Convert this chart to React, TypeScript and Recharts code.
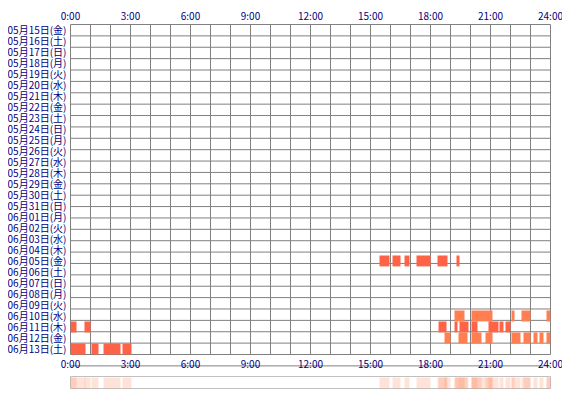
import { BarChart, Bar, XAxis, YAxis, CartesianGrid, Cell, ReferenceArea } from "recharts";

const DAY_LABELS = [
  "05月15日(金)", "05月16日(土)", "05月17日(日)", "05月18日(月)", "05月19日(火)",
  "05月20日(水)", "05月21日(木)", "05月22日(金)", "05月23日(土)", "05月24日(日)",
  "05月25日(月)", "05月26日(火)", "05月27日(水)", "05月28日(木)", "05月29日(金)",
  "05月30日(土)", "05月31日(日)", "06月01日(月)", "06月02日(火)", "06月03日(水)",
  "06月04日(木)", "06月05日(金)", "06月06日(土)", "06月07日(日)", "06月08日(月)",
  "06月09日(火)", "06月10日(水)", "06月11日(木)", "06月12日(金)", "06月13日(土)",
];

const HOUR_TICKS = [0, 1, 2, 3, 4, 5, 6, 7, 8, 9, 10, 11, 12, 13, 14, 15, 16, 17, 18, 19, 20, 21, 22, 23, 24];
const ROW_LINES = [0, 1, 2, 3, 4, 5, 6, 7, 8, 9, 10, 11, 12, 13, 14, 15, 16, 17, 18, 19, 20, 21, 22, 23, 24, 25, 26, 27, 28, 29, 30];

// active periods, [start hour, end hour]
const JUN05 = [[15.45, 15.95], [16.1, 16.5], [16.7, 16.95], [17.3, 18.0], [18.35, 18.85], [19.3, 19.45]];
const JUN10 = [[19.2, 19.7], [20.05, 21.1], [22.05, 22.2], [22.55, 23.0], [23.8, 24.0]];
const JUN11 = [[0, 0.3], [0.7, 1.0], [18.4, 18.8], [19.2, 19.35], [19.45, 19.9], [20.05, 20.35], [20.9, 21.4], [21.45, 21.65], [21.75, 22.0]];
const JUN12 = [[18.7, 19.0], [19.4, 19.85], [20.05, 20.55], [20.75, 21.1], [22.05, 22.5], [22.65, 23.0], [23.15, 23.35], [23.45, 23.65], [23.8, 24.0]];
const JUN13 = [[0, 0.75], [1.05, 1.4], [1.65, 2.5], [2.6, 3.05]];

const TOMATO = "#FF6347";
const CORAL = "#FF7F50";

const ACTIVITY: Record<string, number[][]> = {
  "06月05日(金)": JUN05,
  "06月10日(水)": JUN10,
  "06月11日(木)": JUN11,
  "06月12日(金)": JUN12,
  "06月13日(土)": JUN13,
};
const ROW_COLOR: Record<string, string> = {
  "06月10日(水)": CORAL,
  "06月12日(金)": CORAL,
};

const rows = DAY_LABELS.map((day) => ({ day, segs: ACTIVITY[day] ?? [] }));
const slots = Array.from({ length: Math.max(...rows.map((r) => r.segs.length)) }, (_, i) => i);

const allSegs = [...JUN05, ...JUN10, ...JUN11, ...JUN12, ...JUN13];
const strip = [{ name: "all", segs: allSegs }];

const tickStyle = { fill: "#000080", fontSize: 10, fontFamily: "'Noto Sans CJK JP', sans-serif" };
// only every third hour gets a label, grid lines stay hourly
const fmtHour = (h: number) => (h % 3 === 0 ? `${h}:00` : "");

export default function App() {
  return (
    <div style={{ width: 562 }}>
      <BarChart
        width={562}
        height={367}
        data={rows}
        layout="vertical"
        margin={{ top: 0.5, right: 19.5, bottom: 0.5, left: 0.5 }}
        barGap={-10.9}
        barSize={10.9}
      >
        <XAxis xAxisId="top" orientation="top" type="number" domain={[0, 24]} allowDataOverflow ticks={HOUR_TICKS}
          tickFormatter={fmtHour} height={16} tickSize={0} tickMargin={5} axisLine={false} tick={tickStyle} interval={0} />
        <XAxis xAxisId="bottom" orientation="bottom" type="number" domain={[0, 24]} allowDataOverflow ticks={HOUR_TICKS}
          tickFormatter={fmtHour} height={20} tickSize={0} tickMargin={6} axisLine={false} tick={tickStyle} interval={0} />
        <YAxis yAxisId="days" type="category" dataKey="day" width={62} tickSize={0} tickMargin={4}
          axisLine={false} tick={tickStyle} interval={0} />
        <YAxis yAxisId="rows" hide type="number" domain={[0, 30]} allowDataOverflow ticks={ROW_LINES} interval={0} />
        {slots.map((i) => (
          <Bar key={i} xAxisId="bottom" yAxisId="days" dataKey={(r: any) => r.segs[i] ?? null} isAnimationActive={false}>
            {rows.map((r) => (
              <Cell key={r.day} fill={ROW_COLOR[r.day] ?? TOMATO} />
            ))}
          </Bar>
        ))}
        <CartesianGrid xAxisId="bottom" yAxisId="rows" stroke="#808080" />
      </BarChart>
      <BarChart
        width={562}
        height={15}
        data={strip}
        layout="vertical"
        margin={{ top: 1.5, right: 19.5, bottom: 1.5, left: 62.5 }}
        barGap={-11}
        barSize={11}
      >
        <XAxis type="number" domain={[0, 24]} allowDataOverflow hide />
        <YAxis type="category" dataKey="name" hide />
        {allSegs.map((_, i) => (
          <Bar key={i} dataKey={(r: any) => r.segs[i]} fill={CORAL} fillOpacity={0.22} isAnimationActive={false} />
        ))}
        <ReferenceArea x1={0} x2={24} fill="none" stroke="#C0C0C0" />
      </BarChart>
    </div>
  );
}
